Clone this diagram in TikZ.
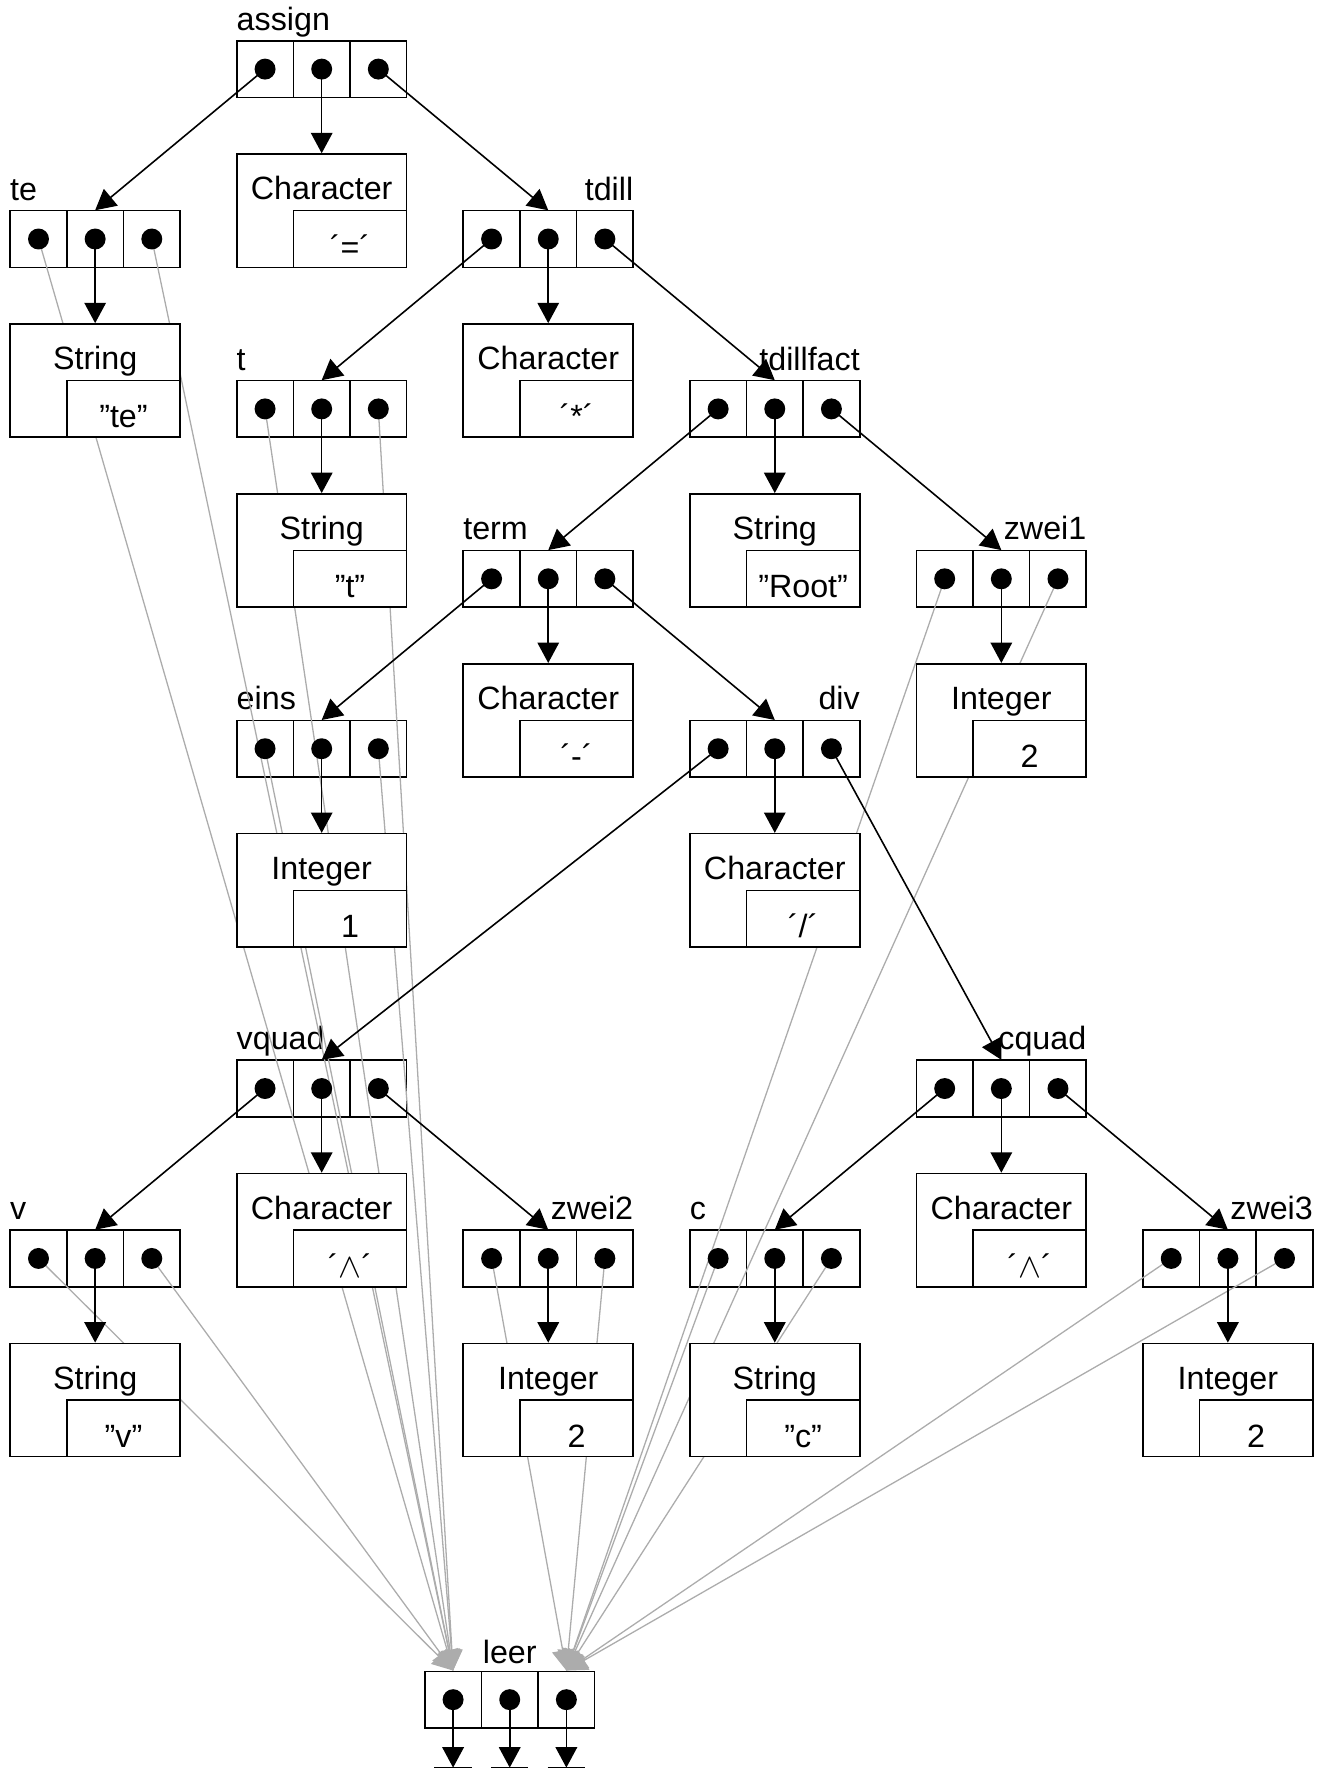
\documentclass[tikz,border=0pt]{standalone}
\usepackage{fontspec}
\setmainfont{Liberation Sans}
\usetikzlibrary{arrows.meta}

\begin{document}
\begin{tikzpicture}[x=1cm,y=1cm,font=\fontsize{16.2}{19}\selectfont,
                    box/.style={draw,fill=white,line width=0.8pt,inner sep=0pt},
                    cell/.style={box,minimum size=1cm},
                    record/.style={minimum width=3cm,minimum height=1cm,inner sep=0pt},
                    rec label/.style={inner sep=0pt},
                    data node/.style={box,minimum width=3cm,minimum height=2cm},
                    value node/.style={box,minimum width=2cm,minimum height=1cm},
                    ptr/.style={line width=0.8pt,-{Triangle[length=0.36cm,width=0.38cm]}},
                    nil/.style={gray!65,line width=0.65pt,-{Triangle[length=0.36cm,width=0.38cm]}}]

  \useasboundingbox (0,0) rectangle (23.35,-31.27);

  % records: name/column/row/side of the name
  \foreach \n/\k/\r/\s in {assign/1/0/west, te/0/1/west, tdill/2/1/east,
      t/1/2/west, tdillfact/3/2/east, term/2/3/west, zwei1/4/3/east,
      eins/1/4/west, div/3/4/east, vquad/1/6/west, cquad/4/6/east,
      v/0/7/west, zwei2/2/7/east, c/3/7/west, zwei3/5/7/east} {
    \node[record] (\n) at ({1.68+4*\k},{-1.22-3*\r}) {};
    \node[cell] (\n-1) at ([xshift=-1cm]\n.center) {};
    \node[cell] (\n-2) at (\n.center) {};
    \node[cell] (\n-3) at ([xshift=1cm]\n.center) {};
    \node[rec label,anchor=base \s] at ([yshift=0.18cm]\n.north \s) {\n};
  }
  \node[record] (leer) at (9.0,-30.01) {};
  \node[cell] (leer-1) at ([xshift=-1cm]leer.center) {};
  \node[cell] (leer-2) at (leer.center) {};
  \node[cell] (leer-3) at ([xshift=1cm]leer.center) {};
  \node[rec label,anchor=base] at ([yshift=0.14cm]leer.north) {leer};

  % empty pointers
  \foreach \n in {te,t,eins,v}
    \path[nil] (\n-1.center) edge (leer-1.north)
               (\n-3.center) edge (leer-1.north);
  \foreach \n in {zwei1,zwei2,c,zwei3}
    \path[nil] (\n-1.center) edge (leer-3.north)
               (\n-3.center) edge (leer-3.north);

  % values: name/column/row/type/value
  \foreach \d/\k/\r/\typ/\val in {chEq/1/1/Character/{´=´},
      strTe/0/2/String/{”te”}, chMul/2/2/Character/{´*´},
      strT/1/3/String/{”t”}, strRoot/3/3/String/{”Root”},
      chMin/2/4/Character/{´-´}, intA/4/4/Integer/2,
      intB/1/5/Integer/1, chDiv/3/5/Character/{´/´},
      chPowA/1/7/Character/{´$\wedge$´}, chPowB/4/7/Character/{´$\wedge$´},
      strV/0/8/String/{”v”}, intC/2/8/Integer/2,
      strC/3/8/String/{”c”}, intD/5/8/Integer/2} {
    \node[data node] (\d) at ({1.68+4*\k},{-0.72-3*\r}) {};
    \node[value node,anchor=south east] (\d-v) at (\d.south east) {};
    \node[anchor=base] at ([yshift=-0.82cm]\d.north) {\typ};
    \node[anchor=base] at ([yshift=-0.85cm]\d-v.north) {\val};
  }

  \path[ptr] (assign-1.center) edge (te.north)
             (assign-2.center) edge (chEq.north)
             (assign-3.center) edge (tdill.north)
             (te-2.center) edge (strTe.north)
             (tdill-1.center) edge (t.north)
             (tdill-2.center) edge (chMul.north)
             (tdill-3.center) edge (tdillfact.north)
             (t-2.center) edge (strT.north)
             (tdillfact-1.center) edge (term.north)
             (tdillfact-2.center) edge (strRoot.north)
             (tdillfact-3.center) edge (zwei1.north)
             (term-1.center) edge (eins.north)
             (term-2.center) edge (chMin.north)
             (term-3.center) edge (div.north)
             (zwei1-2.center) edge (intA.north)
             (eins-2.center) edge (intB.north)
             (div-1.center) edge (vquad.north)
             (div-2.center) edge (chDiv.north)
             (div-3.center) edge (cquad.north)
             (vquad-1.center) edge (v.north)
             (vquad-2.center) edge (chPowA.north)
             (vquad-3.center) edge (zwei2.north)
             (cquad-1.center) edge (c.north)
             (cquad-2.center) edge (chPowB.north)
             (cquad-3.center) edge (zwei3.north)
             (v-2.center) edge (strV.north)
             (zwei2-2.center) edge (intC.north)
             (c-2.center) edge (strC.north)
             (zwei3-2.center) edge (intD.north);

  % ground under leer
  \foreach \i in {1,2,3} {
    \coordinate (g\i) at ([yshift=-1.2cm]leer-\i.center);
    \draw[ptr] (leer-\i.center) -- (g\i);
    \draw[line width=0.8pt] ([xshift=-0.33cm]g\i) -- ([xshift=0.33cm]g\i);
  }

  \foreach \n in {assign,te,tdill,t,tdillfact,term,zwei1,eins,div,
                  vquad,cquad,v,zwei2,c,zwei3,leer}
    \foreach \i in {1,2,3}
      \fill (\n-\i.center) circle (0.185);
\end{tikzpicture}
\end{document}
